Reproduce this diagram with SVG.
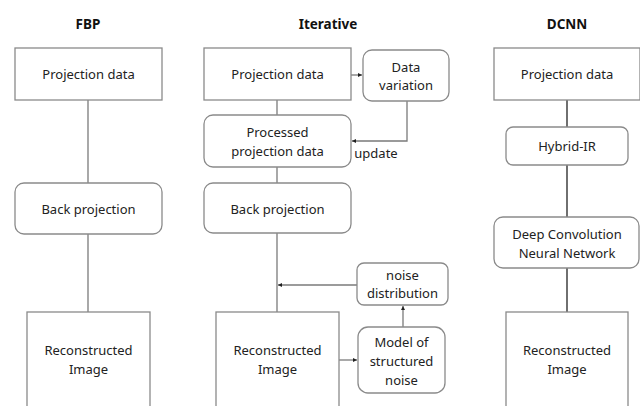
<svg xmlns="http://www.w3.org/2000/svg" width="640" height="406" viewBox="0 0 640 406">
<defs>
<marker id="ah" viewBox="0 0 6 6" refX="6" refY="3" markerWidth="4" markerHeight="4" orient="auto" markerUnits="userSpaceOnUse">
<path d="M0,0 L6,3 L0,6 z" fill="#222"/>
</marker>
<style>
.box{fill:#fff;stroke:#8a8a8a;stroke-width:1.3}
.t{font-family:"Noto Sans","Open Sans",sans-serif;font-size:13px;fill:#222;text-anchor:middle}
.h{font-family:"Noto Sans","Open Sans",sans-serif;font-size:13.5px;font-weight:bold;fill:#111;text-anchor:middle}
.ln{stroke:#7a7a7a;stroke-width:1.3;fill:none}
.lnd{stroke:#222;stroke-width:1.3;fill:none}
</style>
</defs>
<rect width="640" height="406" fill="#fff"/>
<text class="h" x="88" y="29">FBP</text>
<text class="h" x="328" y="29">Iterative</text>
<text class="h" x="567" y="29">DCNN</text>
<g id="connectors">
<path class="ln" d="M88,100 V183"/>
<path class="ln" d="M88,234 V312"/>
<path class="ln" d="M351,75 H362" marker-end="url(#ah)"/>
<path class="ln" d="M277,100 V115"/>
<path class="ln" d="M407,101 V141 H352" marker-end="url(#ah)"/>
<path class="ln" d="M277,167 V183"/>
<path class="ln" d="M277,233 V312"/>
<path class="ln" d="M357,285 H278" marker-end="url(#ah)"/>
<path class="ln" d="M403,327 V306" marker-end="url(#ah)"/>
<path class="ln" d="M339,360 H357" marker-end="url(#ah)"/>
<path class="lnd" d="M567,100 V127"/>
<path class="lnd" d="M567,165 V217"/>
<path class="lnd" d="M567,268 V312"/>
<text class="t" x="376" y="158">update</text>
</g>
<g id="fbp-proj"><rect class="box" x="15" y="48" width="147" height="52"/><text class="t" x="88.5" y="79">Projection data</text></g>
<g id="fbp-back"><rect class="box" x="15" y="183" width="147" height="51" rx="9"/><text class="t" x="88.5" y="214">Back projection</text></g>
<g id="fbp-recon"><rect class="box" x="27" y="312" width="123" height="110"/><text class="t" x="88.5" y="355">Reconstructed</text><text class="t" x="88.5" y="374">Image</text></g>
<g id="it-proj"><rect class="box" x="204" y="48" width="147" height="52"/><text class="t" x="277.5" y="79">Projection data</text></g>
<g id="it-datavar"><rect class="box" x="363" y="50" width="86" height="51" rx="9"/><text class="t" x="406" y="72">Data</text><text class="t" x="406" y="90">variation</text></g>
<g id="it-processed"><rect class="box" x="204" y="115" width="147" height="52" rx="9"/><text class="t" x="277.5" y="137">Processed</text><text class="t" x="277.5" y="156">projection data</text></g>
<g id="it-back"><rect class="box" x="204" y="183" width="147" height="50" rx="9"/><text class="t" x="277.5" y="214">Back projection</text></g>
<g id="it-noise"><rect class="box" x="357" y="263" width="91" height="42" rx="7"/><text class="t" x="402.5" y="280">noise</text><text class="t" x="402.5" y="298">distribution</text></g>
<g id="it-model"><rect class="box" x="358" y="327" width="87" height="66" rx="10"/><text class="t" x="401.5" y="347">Model of</text><text class="t" x="401.5" y="366">structured</text><text class="t" x="401.5" y="385">noise</text></g>
<g id="it-recon"><rect class="box" x="216" y="312" width="123" height="110"/><text class="t" x="277.5" y="355">Reconstructed</text><text class="t" x="277.5" y="374">Image</text></g>
<g id="dc-proj"><rect class="box" x="494" y="48" width="146" height="52"/><text class="t" x="567" y="79">Projection data</text></g>
<g id="dc-hybrid"><rect class="box" x="506" y="127" width="122" height="38" rx="7"/><text class="t" x="567" y="151">Hybrid-IR</text></g>
<g id="dc-dcnn"><rect class="box" x="494" y="217" width="145" height="51" rx="9"/><text class="t" x="567" y="239">Deep Convolution</text><text class="t" x="567" y="258">Neural Network</text></g>
<g id="dc-recon"><rect class="box" x="506" y="312" width="122" height="110"/><text class="t" x="567" y="355">Reconstructed</text><text class="t" x="567" y="374">Image</text></g>
</svg>
